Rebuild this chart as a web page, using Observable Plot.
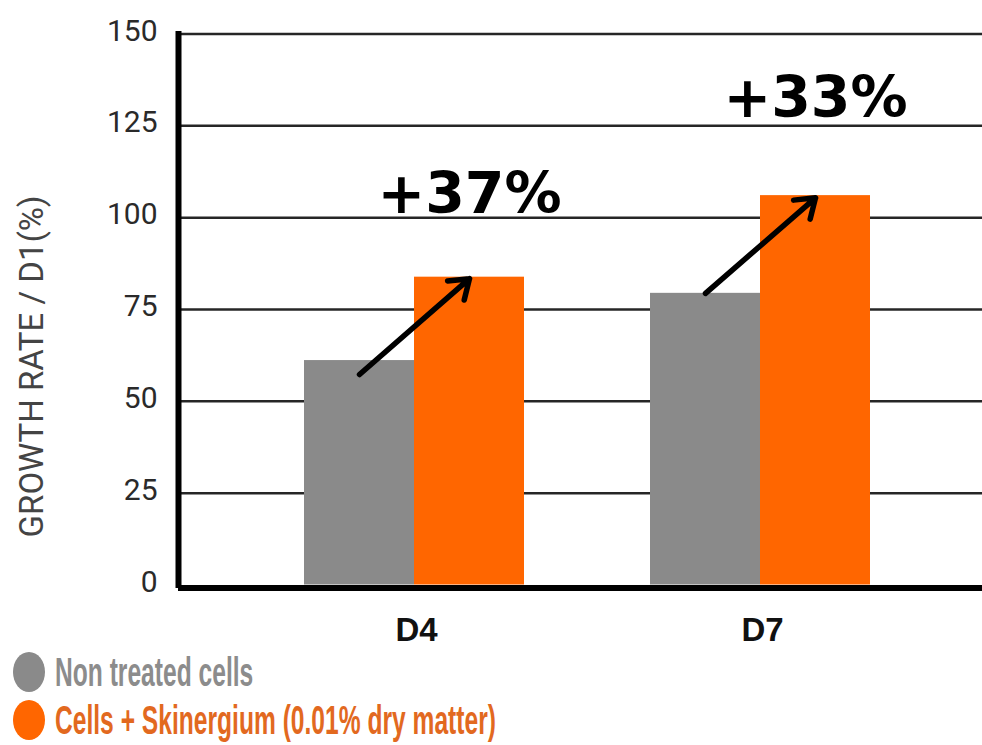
<!DOCTYPE html>
<html><head><meta charset="utf-8">
<script src="https://cdn.jsdelivr.net/npm/d3@7"></script>
<script src="https://cdn.jsdelivr.net/npm/@observablehq/plot@0.6"></script>
<style>
body{margin:0;background:#fff;}
#chart{position:relative;width:982px;height:648px;}
#chart svg{position:absolute;left:0;top:0;}
#legend{width:982px;height:97px;font-family:"Liberation Sans",Arial,sans-serif;font-weight:bold;overflow:hidden;}
.item{display:flex;align-items:center;height:48px;}
.sw{width:32px;height:40px;border-radius:50%;margin-left:13px;margin-right:10px;flex:none;}
.lab{font-size:41px;display:inline-block;transform:scaleX(0.6);transform-origin:left center;white-space:nowrap;}
</style></head>
<body>
<div id="chart"></div>
<div id="legend"></div>
<script>
const days = ["D4", "D7"];
const series = ["Non treated cells", "Cells + Skinergium (0.01% dry matter)"];
const nonTreated = [61.1, 79.4];
const skinergium = [83.8, 106.0];
const arrowStart = [57.3, 79.4];
const arrowEnd = [83.4, 105.4];
const gainLabels = ["+37%", "+33%"];
const gainLabelY = [101.4, 127.3];
const yTicks = [0, 25, 50, 75, 100, 125, 150];
const yLabel = "GROWTH RATE / D1(%)";
const colors = ["#8a8a8a", "#ff6600"];
const textColors = ["#8c8c8c", "#e2691f"];

const bars = days.flatMap((d, i) => [
  {day: d, series: series[0], value: nonTreated[i]},
  {day: d, series: series[1], value: skinergium[i]}
]);
const arrows = days.map((d, i) => ({day: d, from: series[0], to: series[1], y1: arrowStart[i], y2: arrowEnd[i]}));
const gains = days.map((d, i) => ({day: d, series: series[1], y: gainLabelY[i], text: gainLabels[i]}));

const common = {width: 982, height: 648, marginLeft: 178, marginRight: 0, marginTop: 33.5, marginBottom: 63.5};

const background = Plot.plot({
  ...common,
  style: {background: "white", fontFamily: "Roboto, 'Liberation Sans', sans-serif"},
  y: {domain: [0, 150]},
  marks: [
    Plot.ruleY(yTicks.filter(t => t > 0), {stroke: "#262626", strokeWidth: 2.5}),
    Plot.ruleY([0], {stroke: "#000", strokeWidth: 6, dy: 3}),
    Plot.frame({anchor: "left", stroke: "#000", strokeWidth: 6}),
    Plot.axisY({ticks: yTicks, tickSize: 0, tickPadding: 21, fontSize: 30, fontWeight: 400, color: "#2a2a2a", label: null, dy: -3}),
    Plot.text([yLabel], {text: d => d, frameAnchor: "left", textAnchor: "middle", rotate: -90, dx: -146, dy: 57, fontSize: 33, fontWeight: 400, fill: "#444"})
  ]
});

const overlay = Plot.plot({
  ...common,
  style: {background: "transparent", fontFamily: "'Liberation Sans', Arial, sans-serif"},
  fx: {domain: days, range: [178, 996], paddingInner: 0.04, paddingOuter: 0.202, label: null},
  x: {domain: series, paddingInner: 0, paddingOuter: 0.4964, axis: null},
  y: {domain: [0, 150], axis: null},
  color: {domain: series, range: colors},
  marks: [
    Plot.barY(bars, {fx: "day", x: "series", y: "value", fill: "series"}),
    Plot.arrow(arrows, {fx: "day", x1: "from", x2: "to", y1: "y1", y2: "y2", stroke: "#000", strokeWidth: 5.5, headLength: 6, headAngle: 70}),
    Plot.text(gains, {fx: "day", x: "series", y: "y", text: "text", lineAnchor: "bottom", fontSize: 57, fontWeight: "bold", fontFamily: "DejaVu Sans", fill: "#000"}),
    Plot.axisFx({anchor: "bottom", tickSize: 0, tickPadding: 33, fontSize: 33, fontWeight: "bold", color: "#111", label: null, dx: 2})
  ]
});

const chart = document.getElementById("chart");
chart.append(background, overlay);

const legend = document.getElementById("legend");
series.forEach((s, i) => {
  const item = document.createElement("div");
  item.className = "item";
  const sw = document.createElement("span");
  sw.className = "sw";
  sw.style.background = colors[i];
  const lab = document.createElement("span");
  lab.className = "lab";
  lab.style.color = textColors[i];
  lab.textContent = s;
  item.append(sw, lab);
  legend.append(item);
});
</script>
</body></html>
